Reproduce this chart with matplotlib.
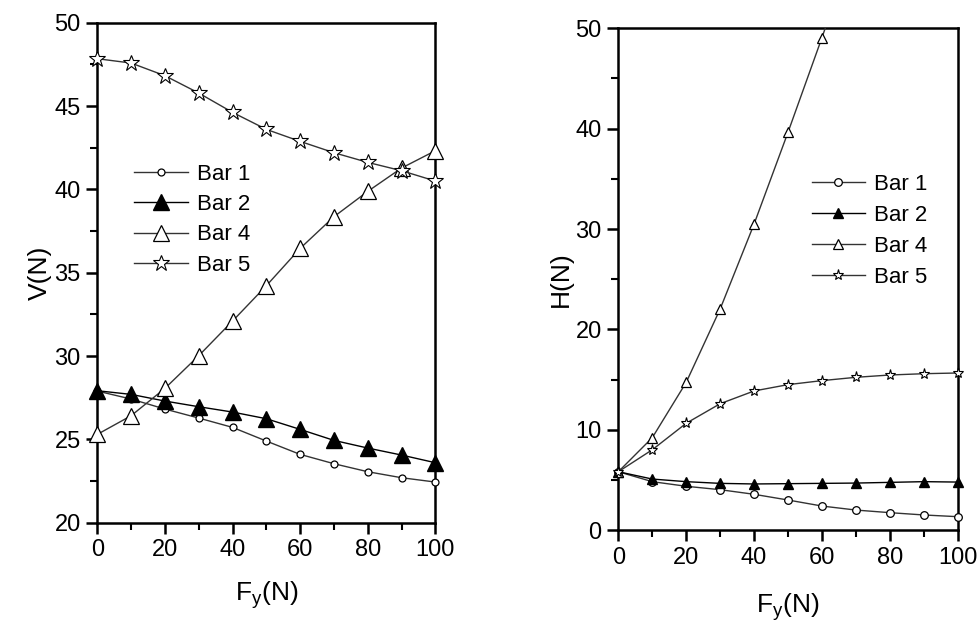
import numpy as np
import matplotlib
matplotlib.use('Agg')
import matplotlib.pyplot as plt
from matplotlib.ticker import MultipleLocator

plt.rcParams['font.family'] = ['Liberation Sans', 'DejaVu Sans']
plt.rcParams['mathtext.default'] = 'regular'

fy = [0, 10, 20, 30, 40, 50, 60, 70, 80, 90, 100]

# vertical reaction V(N)
v_bar1 = [27.9, 27.42, 26.82, 26.28, 25.72, 24.9, 24.1, 23.54, 23.06, 22.7, 22.44]
v_bar2 = [27.92, 27.7, 27.3, 26.96, 26.64, 26.24, 25.6, 24.94, 24.48, 24.06, 23.6]
v_bar4 = [25.3, 26.42, 28.06, 30.02, 32.1, 34.22, 36.46, 38.36, 39.88, 41.28, 42.32]
v_bar5 = [47.84, 47.58, 46.82, 45.78, 44.62, 43.6, 42.88, 42.2, 41.62, 41.12, 40.5]

# horizontal reaction H(N)
h_bar1 = [5.81, 4.82, 4.36, 4.02, 3.56, 2.99, 2.39, 1.99, 1.73, 1.5, 1.33]
h_bar2 = [5.81, 5.08, 4.82, 4.65, 4.59, 4.62, 4.65, 4.68, 4.75, 4.82, 4.78]
fy4 = [0, 10, 20, 30, 40, 50, 60, 70]
h_bar4 = [5.81, 9.2, 14.72, 22.03, 30.5, 39.65, 49.08, 58.8]
h_bar5 = [5.81, 8.0, 10.64, 12.59, 13.86, 14.49, 14.89, 15.22, 15.45, 15.58, 15.65]

labels = ['Bar 1', 'Bar 2', 'Bar 4', 'Bar 5']
lc = '#333333'

fig = plt.figure(figsize=(9.79, 6.24), dpi=100)
ax1 = fig.add_axes([0.0994, 0.1623, 0.3453, 0.8013])
ax2 = fig.add_axes([0.6316, 0.1506, 0.3467, 0.804])


def style(ax):
    for s in ax.spines.values():
        s.set_linewidth(1.8)
    ax.tick_params(which='major', direction='out', length=8, width=1.8,
                   labelsize=17, pad=4)
    ax.tick_params(which='minor', direction='out', length=5, width=1.5)
    ax.tick_params(top=False, right=False)
    ax.xaxis.set_major_locator(MultipleLocator(20))
    ax.xaxis.set_minor_locator(MultipleLocator(10))
    ax.set_xlim(0, 100)


# left panel
ax1.plot(fy, v_bar1, '-o', color=lc, lw=1, ms=5, mfc='white', mec='black',
         mew=0.9, label=labels[0], clip_on=False, zorder=3)
ax1.plot(fy, v_bar2, '-^', color='black', lw=1, ms=11, mfc='black', mec='black',
         label=labels[1], clip_on=False, zorder=3)
ax1.plot(fy, v_bar4, '-^', color=lc, lw=1, ms=12, mfc='white', mec='black',
         mew=0.9, label=labels[2], clip_on=False, zorder=3)
ax1.plot(fy, v_bar5, '-*', color=lc, lw=1, ms=12, mfc='white', mec='black',
         mew=0.8, label=labels[3], clip_on=False, zorder=3)
style(ax1)
ax1.set_ylim(20, 50)
ax1.yaxis.set_major_locator(MultipleLocator(5))
ax1.yaxis.set_minor_locator(MultipleLocator(2.5))
ax1.set_ylabel('V(N)', fontsize=19, labelpad=2)
ax1.set_xlabel('$F_y(N)$', fontsize=19, labelpad=13)
ax1.legend(loc='upper left', bbox_to_anchor=(0.11, 0.718), frameon=False,
           fontsize=16, handlelength=2.4, handletextpad=0.4, labelspacing=0.42,
           borderpad=0, borderaxespad=0)

# right panel
ax2.plot(fy, h_bar1, '-o', color=lc, lw=1, ms=5.5, mfc='white', mec='black',
         mew=0.9, label=labels[0], clip_on=False, zorder=3)
ax2.plot(fy, h_bar2, '-^', color='black', lw=1, ms=7, mfc='black', mec='black',
         label=labels[1], clip_on=False, zorder=3)
ax2.plot(fy4, h_bar4, '-^', color=lc, lw=1, ms=7, mfc='white', mec='black',
         mew=0.9, label=labels[2], zorder=3)
ax2.plot(fy, h_bar5, '-*', color=lc, lw=1, ms=8, mfc='white', mec='black',
         mew=0.8, label=labels[3], clip_on=False, zorder=3)
style(ax2)
ax2.set_ylim(0, 50)
ax2.yaxis.set_major_locator(MultipleLocator(10))
ax2.yaxis.set_minor_locator(MultipleLocator(5))
ax2.set_ylabel('H(N)', fontsize=19, labelpad=2)
ax2.set_xlabel('$F_y(N)$', fontsize=19, labelpad=16)
ax2.legend(loc='upper left', bbox_to_anchor=(0.57, 0.71), frameon=False,
           fontsize=16, handlelength=2.4, handletextpad=0.4, labelspacing=0.45,
           borderpad=0, borderaxespad=0)

fig.savefig('out.png', dpi=100)
